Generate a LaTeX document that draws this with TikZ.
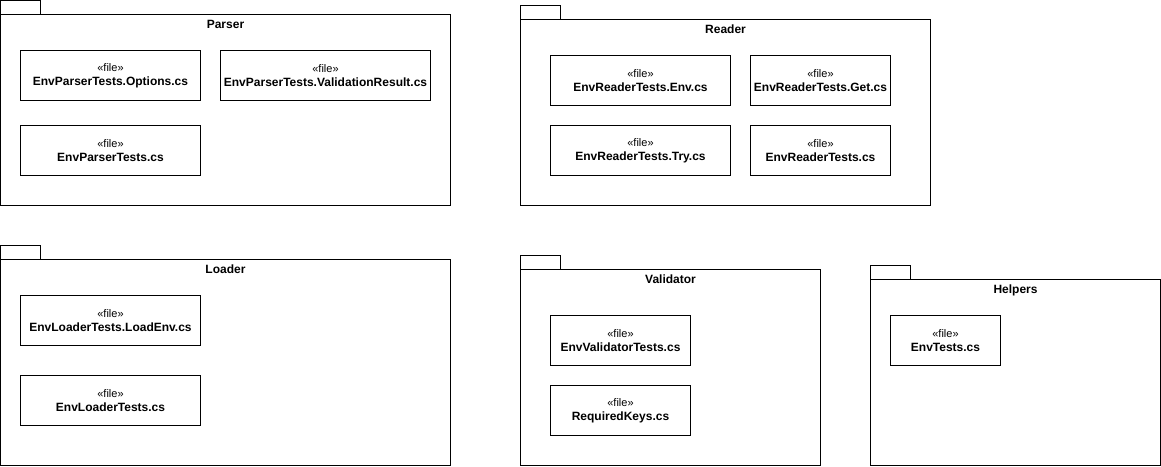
\documentclass[tikz,border=0pt]{standalone}
\usepackage{fontspec}
\setmainfont{Liberation Sans}
\begin{document}
\begin{tikzpicture}[x=1pt, y=-1pt, line width=1pt,
  pkg/.style={draw, rectangle, inner sep=0pt, outer sep=0pt, anchor=north west},
  pkgtab/.style={draw, rectangle, minimum width=40, minimum height=14, inner sep=0pt, outer sep=0pt, anchor=south west},
  pkgname/.style={inner sep=0pt, anchor=north, font=\fontsize{12}{13}\selectfont\bfseries},
  filenode/.style={draw, rectangle, minimum height=50, inner sep=0pt, outer sep=0pt, align=center, font=\fontsize{12}{14}\selectfont}]
  \useasboundingbox (-0.5,-0.5) rectangle (1160.5,465.5);
  % Parser
  \node[pkg, minimum width=450, minimum height=191] (parser) at (0,14) {};
  \node[pkgtab] (parsertab) at (parser.north west) {};
  \node[pkgname] (parserlbl) at ([yshift=-5pt]parser.north) {Parser};
  \node[filenode, minimum width=180] (popt) at (110,75) {{\fontsize{11}{14}\selectfont «file»}\\\textbf{EnvParserTests.Options.cs}};
  \node[filenode, minimum width=210] (pval) at (325,75) {{\fontsize{11}{14}\selectfont «file»}\\\textbf{EnvParserTests.ValidationResult.cs}};
  \node[filenode, minimum width=180] (pmain) at (110,150) {{\fontsize{11}{14}\selectfont «file»}\\\textbf{EnvParserTests.cs}};
  % Reader
  \node[pkg, minimum width=410, minimum height=186] (reader) at (520,19) {};
  \node[pkgtab] (readertab) at (reader.north west) {};
  \node[pkgname] (readerlbl) at ([yshift=-5pt]reader.north) {Reader};
  \node[filenode, minimum width=180] (renv) at (640,80) {{\fontsize{11}{14}\selectfont «file»}\\\textbf{EnvReaderTests.Env.cs}};
  \node[filenode, minimum width=140] (rget) at (820,80) {{\fontsize{11}{14}\selectfont «file»}\\\textbf{EnvReaderTests.Get.cs}};
  \node[filenode, minimum width=180] (rtry) at (640,150) {{\fontsize{11}{14}\selectfont «file»}\\\textbf{EnvReaderTests.Try.cs}};
  \node[filenode, minimum width=140] (rmain) at (820,150) {{\fontsize{11}{14}\selectfont «file»}\\\textbf{EnvReaderTests.cs}};
  % Loader
  \node[pkg, minimum width=450, minimum height=206] (loader) at (0,259) {};
  \node[pkgtab] (loadertab) at (loader.north west) {};
  \node[pkgname] (loaderlbl) at ([yshift=-5pt]loader.north) {Loader};
  \node[filenode, minimum width=180] (lload) at (110,320) {{\fontsize{11}{14}\selectfont «file»}\\\textbf{EnvLoaderTests.LoadEnv.cs}};
  \node[filenode, minimum width=180] (lmain) at (110,400) {{\fontsize{11}{14}\selectfont «file»}\\\textbf{EnvLoaderTests.cs}};
  % Validator
  \node[pkg, minimum width=300, minimum height=196] (validator) at (520,269) {};
  \node[pkgtab] (validatortab) at (validator.north west) {};
  \node[pkgname] (validatorlbl) at ([yshift=-5pt]validator.north) {Validator};
  \node[filenode, minimum width=140] (vmain) at (620,340) {{\fontsize{11}{14}\selectfont «file»}\\\textbf{EnvValidatorTests.cs}};
  \node[filenode, minimum width=140] (vkeys) at (620,410) {{\fontsize{11}{14}\selectfont «file»}\\\textbf{RequiredKeys.cs}};
  % Helpers
  \node[pkg, minimum width=290, minimum height=186] (helpers) at (870,279) {};
  \node[pkgtab] (helperstab) at (helpers.north west) {};
  \node[pkgname] (helperslbl) at ([yshift=-5pt]helpers.north) {Helpers};
  \node[filenode, minimum width=110] (hmain) at (945,340) {{\fontsize{11}{14}\selectfont «file»}\\\textbf{EnvTests.cs}};
\end{tikzpicture}
\end{document}
